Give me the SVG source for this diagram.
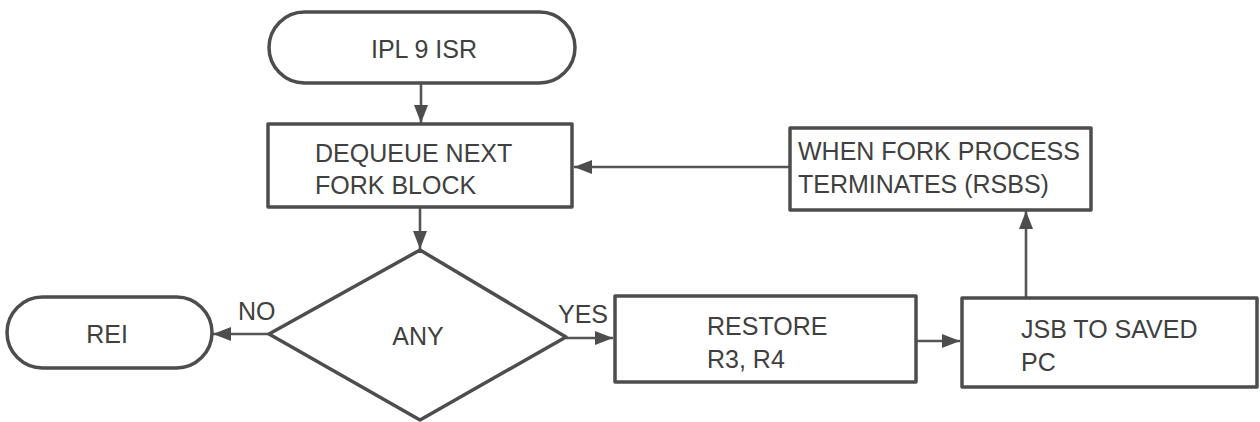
<svg xmlns="http://www.w3.org/2000/svg" width="1260" height="422" viewBox="0 0 1260 422">
<style>
.shape{fill:#fff;stroke:#4d4d4d;stroke-width:3.5;stroke-linejoin:round}
.conn{fill:none;stroke:#555;stroke-width:2.6}
.t{font-family:"Liberation Sans",Arial,sans-serif;font-size:25px;fill:#404040}
.c{text-anchor:middle}
</style>
<defs>
<marker id="ah" markerUnits="userSpaceOnUse" markerWidth="20" markerHeight="14" refX="18" refY="7" orient="auto">
<path d="M0,0 L18,7 L0,14 Z" fill="#4d4d4d"/>
</marker>
</defs>
<rect width="1260" height="422" fill="#fff"/>
<g id="connectors">
<path class="conn" d="M421,83 L421,123" marker-end="url(#ah)"/>
<path class="conn" d="M420,207 L420,249" marker-end="url(#ah)"/>
<path class="conn" d="M269,334 L213,334" marker-end="url(#ah)"/>
<path class="conn" d="M566,338 L613,338" marker-end="url(#ah)"/>
<path class="conn" d="M916,341 L960,341" marker-end="url(#ah)"/>
<path class="conn" d="M1026,298 L1026,211" marker-end="url(#ah)"/>
<path class="conn" d="M790,167 L574,167" marker-end="url(#ah)"/>
<text class="t" x="238" y="320">NO</text>
<text class="t" x="558" y="323">YES</text>
</g>
<g id="ipl9isr">
<rect class="shape" x="269" y="12" width="306" height="71" rx="35.5"/>
<text class="t c" x="424" y="58">IPL 9 ISR</text>
</g>
<g id="dequeue">
<rect class="shape" x="268" y="124" width="304" height="83"/>
<text class="t" x="315" y="162">DEQUEUE NEXT</text>
<text class="t" x="315" y="194">FORK BLOCK</text>
</g>
<g id="any">
<polygon class="shape" points="420,250 566,337 420,420 269,334"/>
<text class="t c" x="418" y="345">ANY</text>
</g>
<g id="rei">
<rect class="shape" x="7" y="297" width="205" height="71" rx="35.5"/>
<text class="t c" x="107" y="343">REI</text>
</g>
<g id="restore">
<rect class="shape" x="615" y="296" width="301" height="86"/>
<text class="t" x="707" y="335">RESTORE</text>
<text class="t" x="707" y="368">R3, R4</text>
</g>
<g id="jsb">
<rect class="shape" x="962" y="298" width="295" height="89"/>
<text class="t" x="1021" y="338">JSB TO SAVED</text>
<text class="t" x="1021" y="371">PC</text>
</g>
<g id="when">
<rect class="shape" x="790" y="128" width="301" height="82"/>
<text class="t" x="798" y="160">WHEN FORK PROCESS</text>
<text class="t" x="798" y="193">TERMINATES (RSBS)</text>
</g>
</svg>
